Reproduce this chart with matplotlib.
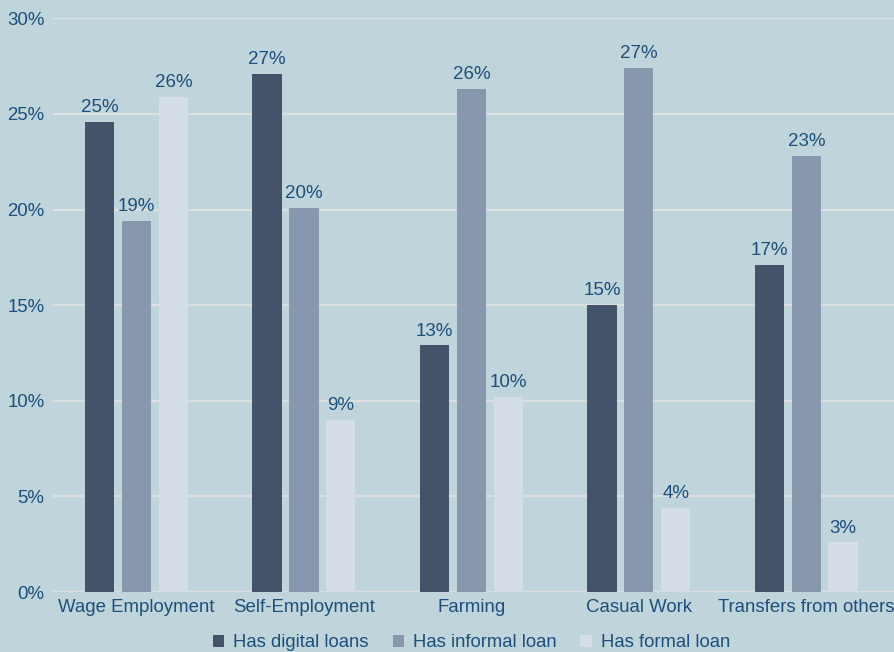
import numpy as np
import matplotlib.pyplot as plt
from matplotlib.ticker import PercentFormatter

plt.rcParams['font.family'] = ['Liberation Sans', 'DejaVu Sans']

# Share of households by main income source
sources = ["Wage Employment", "Self-Employment", "Farming", "Casual Work", "Transfers from others"]
digital = [0.246, 0.271, 0.129, 0.150, 0.171]
informal = [0.194, 0.201, 0.263, 0.274, 0.228]
formal = [0.259, 0.090, 0.102, 0.044, 0.026]

series = [("Has digital loans", digital, "#44536a"),
          ("Has informal loan", informal, "#8797ad"),
          ("Has formal loan", formal, "#d5dee7")]

bg = "#c0d4db"
txt = "#1d4f7c"

fig = plt.figure(figsize=(8.95, 6.52), dpi=100, facecolor=bg)
ax = fig.add_axes([0.059, 0.092, 0.941, 0.88], facecolor=bg)

x = np.arange(len(sources))
width = 0.175
offsets = [-0.22, 0, 0.22]

for (name, vals, color), off in zip(series, offsets):
    bars = ax.bar(x + off, vals, width, color=color, label=name, zorder=3)
    for b, v in zip(bars, vals):
        ax.text(b.get_x() + b.get_width() / 2, v + 0.003, f"{round(v * 100):.0f}%",
                ha="center", va="bottom", fontsize=13.5, color=txt, zorder=4)

ax.set_xlim(-0.5, 4.53)
ax.set_ylim(0, 0.30)
ax.set_yticks(np.arange(0, 0.31, 0.05))
ax.yaxis.set_major_formatter(PercentFormatter(1.0, decimals=0))
ax.set_xticks(x)
ax.set_xticklabels(sources)
ax.tick_params(axis="both", length=0, labelsize=13.4, colors=txt)
ax.tick_params(axis="y", pad=6)
ax.tick_params(axis="x", pad=5)
ax.grid(axis="y", color="#dde0e1", linewidth=1.6, zorder=0)
for s in ax.spines.values():
    s.set_visible(False)

ax.legend(loc="upper center", bbox_to_anchor=(0.497, -0.045), ncol=3, frameon=False,
          fontsize=13.3, labelcolor=txt, handlelength=0.6, handleheight=0.6,
          handletextpad=0.5, columnspacing=1.3)

fig.savefig("out.png", dpi=100, facecolor=bg)
